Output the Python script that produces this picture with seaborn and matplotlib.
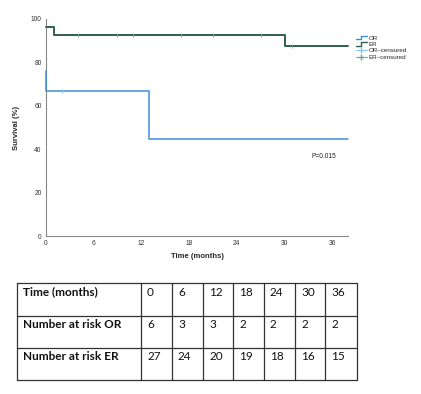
import matplotlib
matplotlib.use("Agg")
import matplotlib.pyplot as plt
import seaborn as sns
import pandas as pd
from matplotlib.legend_handler import HandlerBase
from matplotlib.lines import Line2D

sns.set_theme(style="white")
plt.rcParams["font.family"] = ["Liberation Sans", "DejaVu Sans"]

# Kaplan-Meier steps
or_time = [0, 0, 13, 38]
or_surv = [76, 66.7, 44.5, 44.5]
er_time = [0, 1, 30, 38]
er_surv = [96.5, 92.8, 87.6, 87.6]

# censored observations
or_cens_time = [2]
or_cens_surv = [66.7]
er_cens_time = [4, 9, 11, 17, 21, 27, 31]
er_cens_surv = [92.8, 92.8, 92.8, 92.8, 92.8, 92.8, 87.6]

# number at risk table
risk_header = ["Time (months)", "0", "6", "12", "18", "24", "30", "36"]
risk_or = ["Number at risk OR", "6", "3", "3", "2", "2", "2", "2"]
risk_er = ["Number at risk ER", "27", "24", "20", "19", "18", "16", "15"]

blue = "#3d8fe0"
green = "#2f5f50"
light_blue = "#8cc4f0"
light_green = "#6fa590"

fig = plt.figure(figsize=(4.21, 3.94), dpi=100)
ax = fig.add_axes([0.109, 0.401, 0.718, 0.551])

df_or = pd.DataFrame({"t": or_time, "s": or_surv})
df_er = pd.DataFrame({"t": er_time, "s": er_surv})
sns.lineplot(data=df_or, x="t", y="s", drawstyle="steps-post", color=blue,
             linewidth=1.1, estimator=None, sort=False, ax=ax, clip_on=False, zorder=4)
sns.lineplot(data=df_er, x="t", y="s", drawstyle="steps-post", color=green,
             linewidth=1.4, estimator=None, sort=False, ax=ax, clip_on=False, zorder=4)
ax.scatter(or_cens_time, or_cens_surv, marker="|", s=10, color=light_blue, linewidths=0.7, zorder=5)
ax.scatter(er_cens_time, er_cens_surv, marker="|", s=10, color=light_green, linewidths=0.7, zorder=5)

ax.set_xlim(0, 38)
ax.set_ylim(0, 100)
ax.set_xticks([0, 6, 12, 18, 24, 30, 36])
ax.set_yticks([0, 20, 40, 60, 80, 100])
ax.tick_params(labelsize=4.8, length=0, pad=3, colors="#333333")
for side in ["top", "right"]:
    ax.spines[side].set_visible(False)
for side in ["left", "bottom"]:
    ax.spines[side].set_color("#888888")
    ax.spines[side].set_linewidth(0.8)
ax.set_xlabel("Time (months)", fontsize=5.5, fontweight="bold", labelpad=4)
ax.set_ylabel("Survival (%)", fontsize=5.5, fontweight="bold", labelpad=8)
ax.text(36.5, 36.5, "P=0.015", fontsize=4.8, ha="right", va="center", color="#222222")


class HandlerStep(HandlerBase):
    def create_artists(self, legend, orig_handle, xdescent, ydescent, width, height, fontsize, trans):
        xs = [-xdescent, -xdescent + width * 0.45, -xdescent + width * 0.45, -xdescent + width]
        ys = [height * 0.1, height * 0.1, height * 0.9, height * 0.9]
        ln = Line2D(xs, ys, color=orig_handle.get_color(), linewidth=1.0, transform=trans)
        return [ln]


h_or = Line2D([], [], color=blue)
h_er = Line2D([], [], color=green)
h_orc = Line2D([], [], color=light_blue, marker="+", markersize=5, linewidth=0.7)
h_erc = Line2D([], [], color=light_green, marker="+", markersize=5, linewidth=0.7)
leg = fig.legend([h_or, h_er, h_orc, h_erc], ["OR", "ER", "OR\u2013censured", "ER\u2013censured"],
                 handler_map={h_or: HandlerStep(), h_er: HandlerStep()},
                 loc="upper left", bbox_to_anchor=(0.838, 0.918), frameon=False,
                 fontsize=4.5, handlelength=1.7, handletextpad=0.3, labelspacing=0.15,
                 borderpad=0)

# number at risk table
tax = fig.add_axes([0, 0, 1, 1])
tax.set_xlim(0, 421)
tax.set_ylim(394, 0)
tax.axis("off")
col_edges = [17, 141, 172, 203, 233, 264, 295, 325, 357]
row_edges = [283, 316, 348, 380]
for y in row_edges:
    tax.plot([col_edges[0], col_edges[-1]], [y, y], color="#333333", linewidth=0.9)
for x in col_edges:
    tax.plot([x, x], [row_edges[0], row_edges[-1]], color="#333333", linewidth=0.9)
for r, row in enumerate([risk_header, risk_or, risk_er]):
    for c, val in enumerate(row):
        tax.text(col_edges[c] + 6, row_edges[r] + 3.5, val, fontsize=8.5,
                 fontweight="bold" if c == 0 else "normal",
                 family=["Lato", "DejaVu Sans"], ha="left", va="top", color="#111111")

fig.savefig("out.png", dpi=100, facecolor="white")
